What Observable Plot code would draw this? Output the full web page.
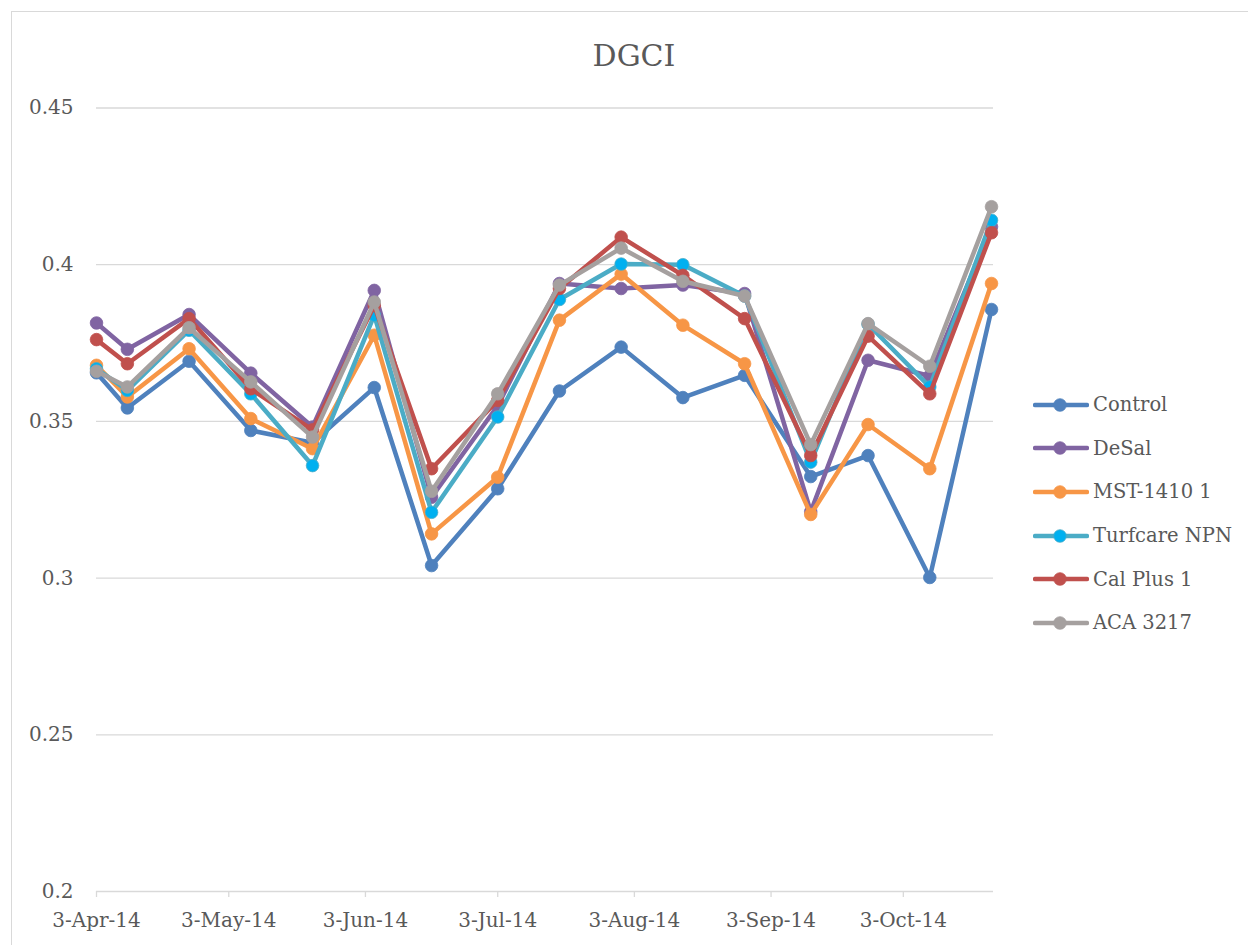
<!DOCTYPE html>
<html>
<head>
<meta charset="utf-8">
<script src="https://cdn.jsdelivr.net/npm/d3@7"></script>
<script src="https://cdn.jsdelivr.net/npm/@observablehq/plot@0.6"></script>
<style>
  html, body { margin: 0; padding: 0; background: #fff; overflow: hidden; }
  #wrap { position: relative; width: 1248px; height: 945px; font-family: "DejaVu Serif", serif; color: #595959; }
  #chart { position: absolute; left: 0; top: 0; }
  #border { position: absolute; left: 11px; top: 11px; width: 1400px; height: 1100px; border: 1px solid #d9d9d9; pointer-events: none; }
  #title { position: absolute; left: 634px; top: 55px; transform: translate(-50%, -50%); font-size: 30px; white-space: nowrap; }
  #legend { position: absolute; left: 1033px; top: 383px; }
  .row { display: flex; align-items: center; height: 43.6px; font-size: 19.5px; white-space: nowrap; }
  .row svg { margin-right: 4px; }
</style>
</head>
<body>
<div id="wrap">
  <div id="chart"></div>
  <div id="title">DGCI</div>
  <div id="legend"></div>
  <div id="border"></div>
</div>
<script>
// ---- data ----
const dates = ["2014-04-03","2014-04-10","2014-04-24","2014-05-08","2014-05-22","2014-06-05","2014-06-18","2014-07-03",
               "2014-07-17","2014-07-31","2014-08-14","2014-08-28","2014-09-12","2014-09-25","2014-10-09","2014-10-23"];
const seriesNames = ["Control", "DeSal", "MST-1410 1", "Turfcare NPN", "Cal Plus 1", "ACA 3217"];
const control  = [0.3655,0.3543,0.3692,0.3471,0.3432,0.3608,0.3040,0.3285,0.3597,0.3737,0.3576,0.3647,0.3324,0.3391,0.3002,0.3857];
const desal    = [0.3814,0.3730,0.3841,0.3654,0.3482,0.3918,0.3258,0.3550,0.3940,0.3924,0.3935,0.3908,0.3212,0.3695,0.3645,0.4121];
const mst      = [0.3679,0.3578,0.3732,0.3509,0.3413,0.3775,0.3141,0.3322,0.3823,0.3970,0.3807,0.3684,0.3203,0.3490,0.3349,0.3940];
const turfcare = [0.3668,0.3599,0.3791,0.3588,0.3359,0.3839,0.3210,0.3514,0.3889,0.4002,0.4000,0.3900,0.3370,0.3810,0.3610,0.4142];
const calPlus  = [0.3761,0.3684,0.3828,0.3604,0.3473,0.3870,0.3349,0.3567,0.3924,0.4088,0.3966,0.3828,0.3391,0.3772,0.3588,0.4102];
const aca      = [0.3660,0.3610,0.3799,0.3626,0.3450,0.3881,0.3277,0.3588,0.3935,0.4053,0.3947,0.3900,0.3426,0.3812,0.3676,0.4185];
const xTicks = ["2014-04-03","2014-05-03","2014-06-03","2014-07-03","2014-08-03","2014-09-03","2014-10-03"];
const yTicks = [0.2, 0.25, 0.3, 0.35, 0.4, 0.45];

// ---- styles ----
const lineColors   = ["#4F81BD", "#8064A2", "#F79646", "#4BACC6", "#C0504D", "#A5A09F"];
const markerColors = ["#4F81BD", "#8064A2", "#F79646", "#00B0F0", "#C0504D", "#A5A09F"];

const parse = d3.utcParse("%Y-%m-%d");
const allValues = [control, desal, mst, turfcare, calPlus, aca];
const tables = allValues.map((vals, s) =>
  dates.map((d, i) => ({date: parse(d), value: vals[i], name: seriesNames[s]})));

const seriesMarks = [];
tables.forEach((t, s) => {
  seriesMarks.push(Plot.line(t, {x: "date", y: "value", stroke: lineColors[s], strokeWidth: 4.5,
    strokeLinejoin: "round", strokeLinecap: "round"}));
  seriesMarks.push(Plot.dot(t, {x: "date", y: "value", r: 6.3, fill: markerColors[s], stroke: lineColors[s], strokeWidth: 0.8}));
});

const chart = Plot.plot({
  width: 1248,
  height: 945,
  marginLeft: 96,
  marginRight: 255,
  marginTop: 107.5,
  marginBottom: 54,
  style: {fontFamily: "DejaVu Serif, serif", fontSize: "20px", color: "#595959", background: "transparent"},
  x: {type: "utc", domain: [parse(dates[0]), parse(dates[dates.length - 1])], range: [96, 991]},
  y: {domain: [0.2, 0.45]},
  marks: [
    Plot.gridY(yTicks.filter(v => v > 0.2), {stroke: "#d9d9d9", strokeOpacity: 1, strokeWidth: 1.3}),
    Plot.ruleY([0.2], {stroke: "#d9d9d9", strokeWidth: 1.3}),
    Plot.axisY(yTicks, {tickSize: 0, tickPadding: 23, tickFormat: d => String(d), label: null, fontSize: 20}),
    Plot.axisX(xTicks.map(parse), {tickSize: 6, tickPadding: 15, stroke: "#d9d9d9", strokeWidth: 1.3,
      tickFormat: d3.utcFormat("%-d-%b-%y"), label: null, fontSize: 20}),
    ...seriesMarks
  ]
});
document.getElementById("chart").appendChild(chart);

// legend
const legend = document.getElementById("legend");
seriesNames.forEach((name, s) => {
  const row = document.createElement("div");
  row.className = "row";
  row.innerHTML = `<svg width="56" height="16" viewBox="0 0 56 16">
      <line x1="2" y1="8" x2="54" y2="8" stroke="${lineColors[s]}" stroke-width="4.5" stroke-linecap="round"/>
      <circle cx="27" cy="8" r="6.3" fill="${markerColors[s]}" stroke="${lineColors[s]}" stroke-width="0.8"/>
    </svg><span>${name}</span>`;
  legend.appendChild(row);
});
</script>
</body>
</html>
